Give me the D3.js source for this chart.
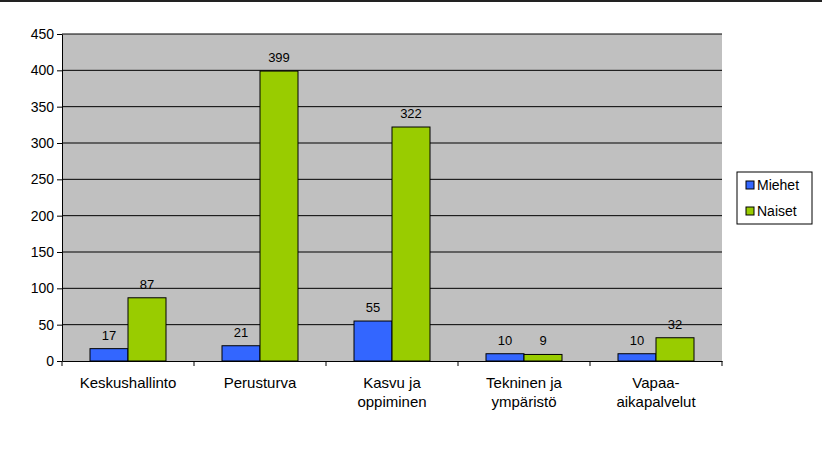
<!DOCTYPE html>
<html><head><meta charset="utf-8">
<script src="https://d3js.org/d3.v7.min.js"></script>
<style>body{margin:0;background:#fff}text{font-family:"Liberation Sans",Arial,sans-serif}</style>
</head><body><svg id="c" width="822" height="458"></svg>
<script>
var categories = [["Keskushallinto"], ["Perusturva"], ["Kasvu ja", "oppiminen"], ["Tekninen ja", "ympäristö"], ["Vapaa-", "aikapalvelut"]];
var series = ["Miehet", "Naiset"];
var miehet = [17, 21, 55, 10, 10];
var naiset = [87, 399, 322, 9, 32];
var colors = ["#3366FF", "#99CC00"];
var yTicks = [0, 50, 100, 150, 200, 250, 300, 350, 400, 450];

var svg = d3.select("#c");
svg.append("rect").attr("x", 0).attr("y", 0).attr("width", 822).attr("height", 2).attr("fill", "#222");

var x0 = d3.scaleBand().domain(d3.range(categories.length)).range([62, 722]);
var x1 = d3.scaleBand().domain(series).range([28, 104]);
var y = d3.scaleLinear().domain([0, 450]).range([361, 34]);

svg.append("rect").attr("x", 62).attr("y", 34).attr("width", 660).attr("height", 327).attr("fill", "#C0C0C0");
svg.append("g").selectAll("line").data(yTicks.slice(1)).enter().append("line")
  .attr("x1", 62).attr("x2", 722).attr("y1", d => y(d)).attr("y2", d => y(d)).attr("stroke", "#000");

var yAxis = svg.append("g").attr("transform", "translate(62,0)").call(d3.axisLeft(y).tickValues(yTicks).tickSize(5).tickSizeOuter(0));
yAxis.selectAll("text").attr("font-size", 14).attr("fill", "#000");
yAxis.select(".domain").attr("stroke", "#000");

var data = [miehet, naiset];
series.forEach(function (s, si) {
  var g = svg.append("g");
  g.selectAll("rect").data(data[si]).enter().append("rect")
    .attr("x", (d, i) => x0(i) + x1(s)).attr("width", x1.bandwidth())
    .attr("y", d => y(d)).attr("height", d => 361 - y(d))
    .attr("fill", colors[si]).attr("stroke", "#000").attr("stroke-width", 1);
  g.selectAll("text").data(data[si]).enter().append("text")
    .attr("x", (d, i) => x0(i) + x1(s) + x1.bandwidth() / 2).attr("y", d => y(d) - 9)
    .attr("text-anchor", "middle").attr("font-size", 13).text(d => d);
});

var xAxis = svg.append("g").attr("transform", "translate(0,361)").call(d3.axisBottom(x0).tickSize(5).tickSizeOuter(0).tickFormat(""));
xAxis.select(".domain").attr("stroke", "#000");
xAxis.selectAll(".tick line").attr("transform", function (d) { return "translate(" + (-x0.bandwidth() / 2) + ",0)"; });
svg.append("line").attr("x1", 722).attr("x2", 722).attr("y1", 361).attr("y2", 366).attr("stroke", "#000");
categories.forEach(function (c, i) {
  var t = svg.append("text").attr("x", x0(i) + x0.bandwidth() / 2).attr("y", 388).attr("text-anchor", "middle").attr("font-size", 15);
  c.forEach(function (line, li) { t.append("tspan").attr("x", x0(i) + x0.bandwidth() / 2).attr("dy", li ? 19 : 0).text(line); });
});

var lg = svg.append("g").attr("transform", "translate(737,172)");
lg.append("rect").attr("width", 75).attr("height", 52).attr("fill", "#fff").attr("stroke", "#000");
series.forEach(function (s, i) {
  lg.append("rect").attr("x", 9).attr("y", 9 + i * 26).attr("width", 8).attr("height", 8).attr("fill", colors[i]).attr("stroke", "#000");
  lg.append("text").attr("x", 20).attr("y", 18 + i * 26).attr("font-size", 14).text(s);
});
</script></body></html>
